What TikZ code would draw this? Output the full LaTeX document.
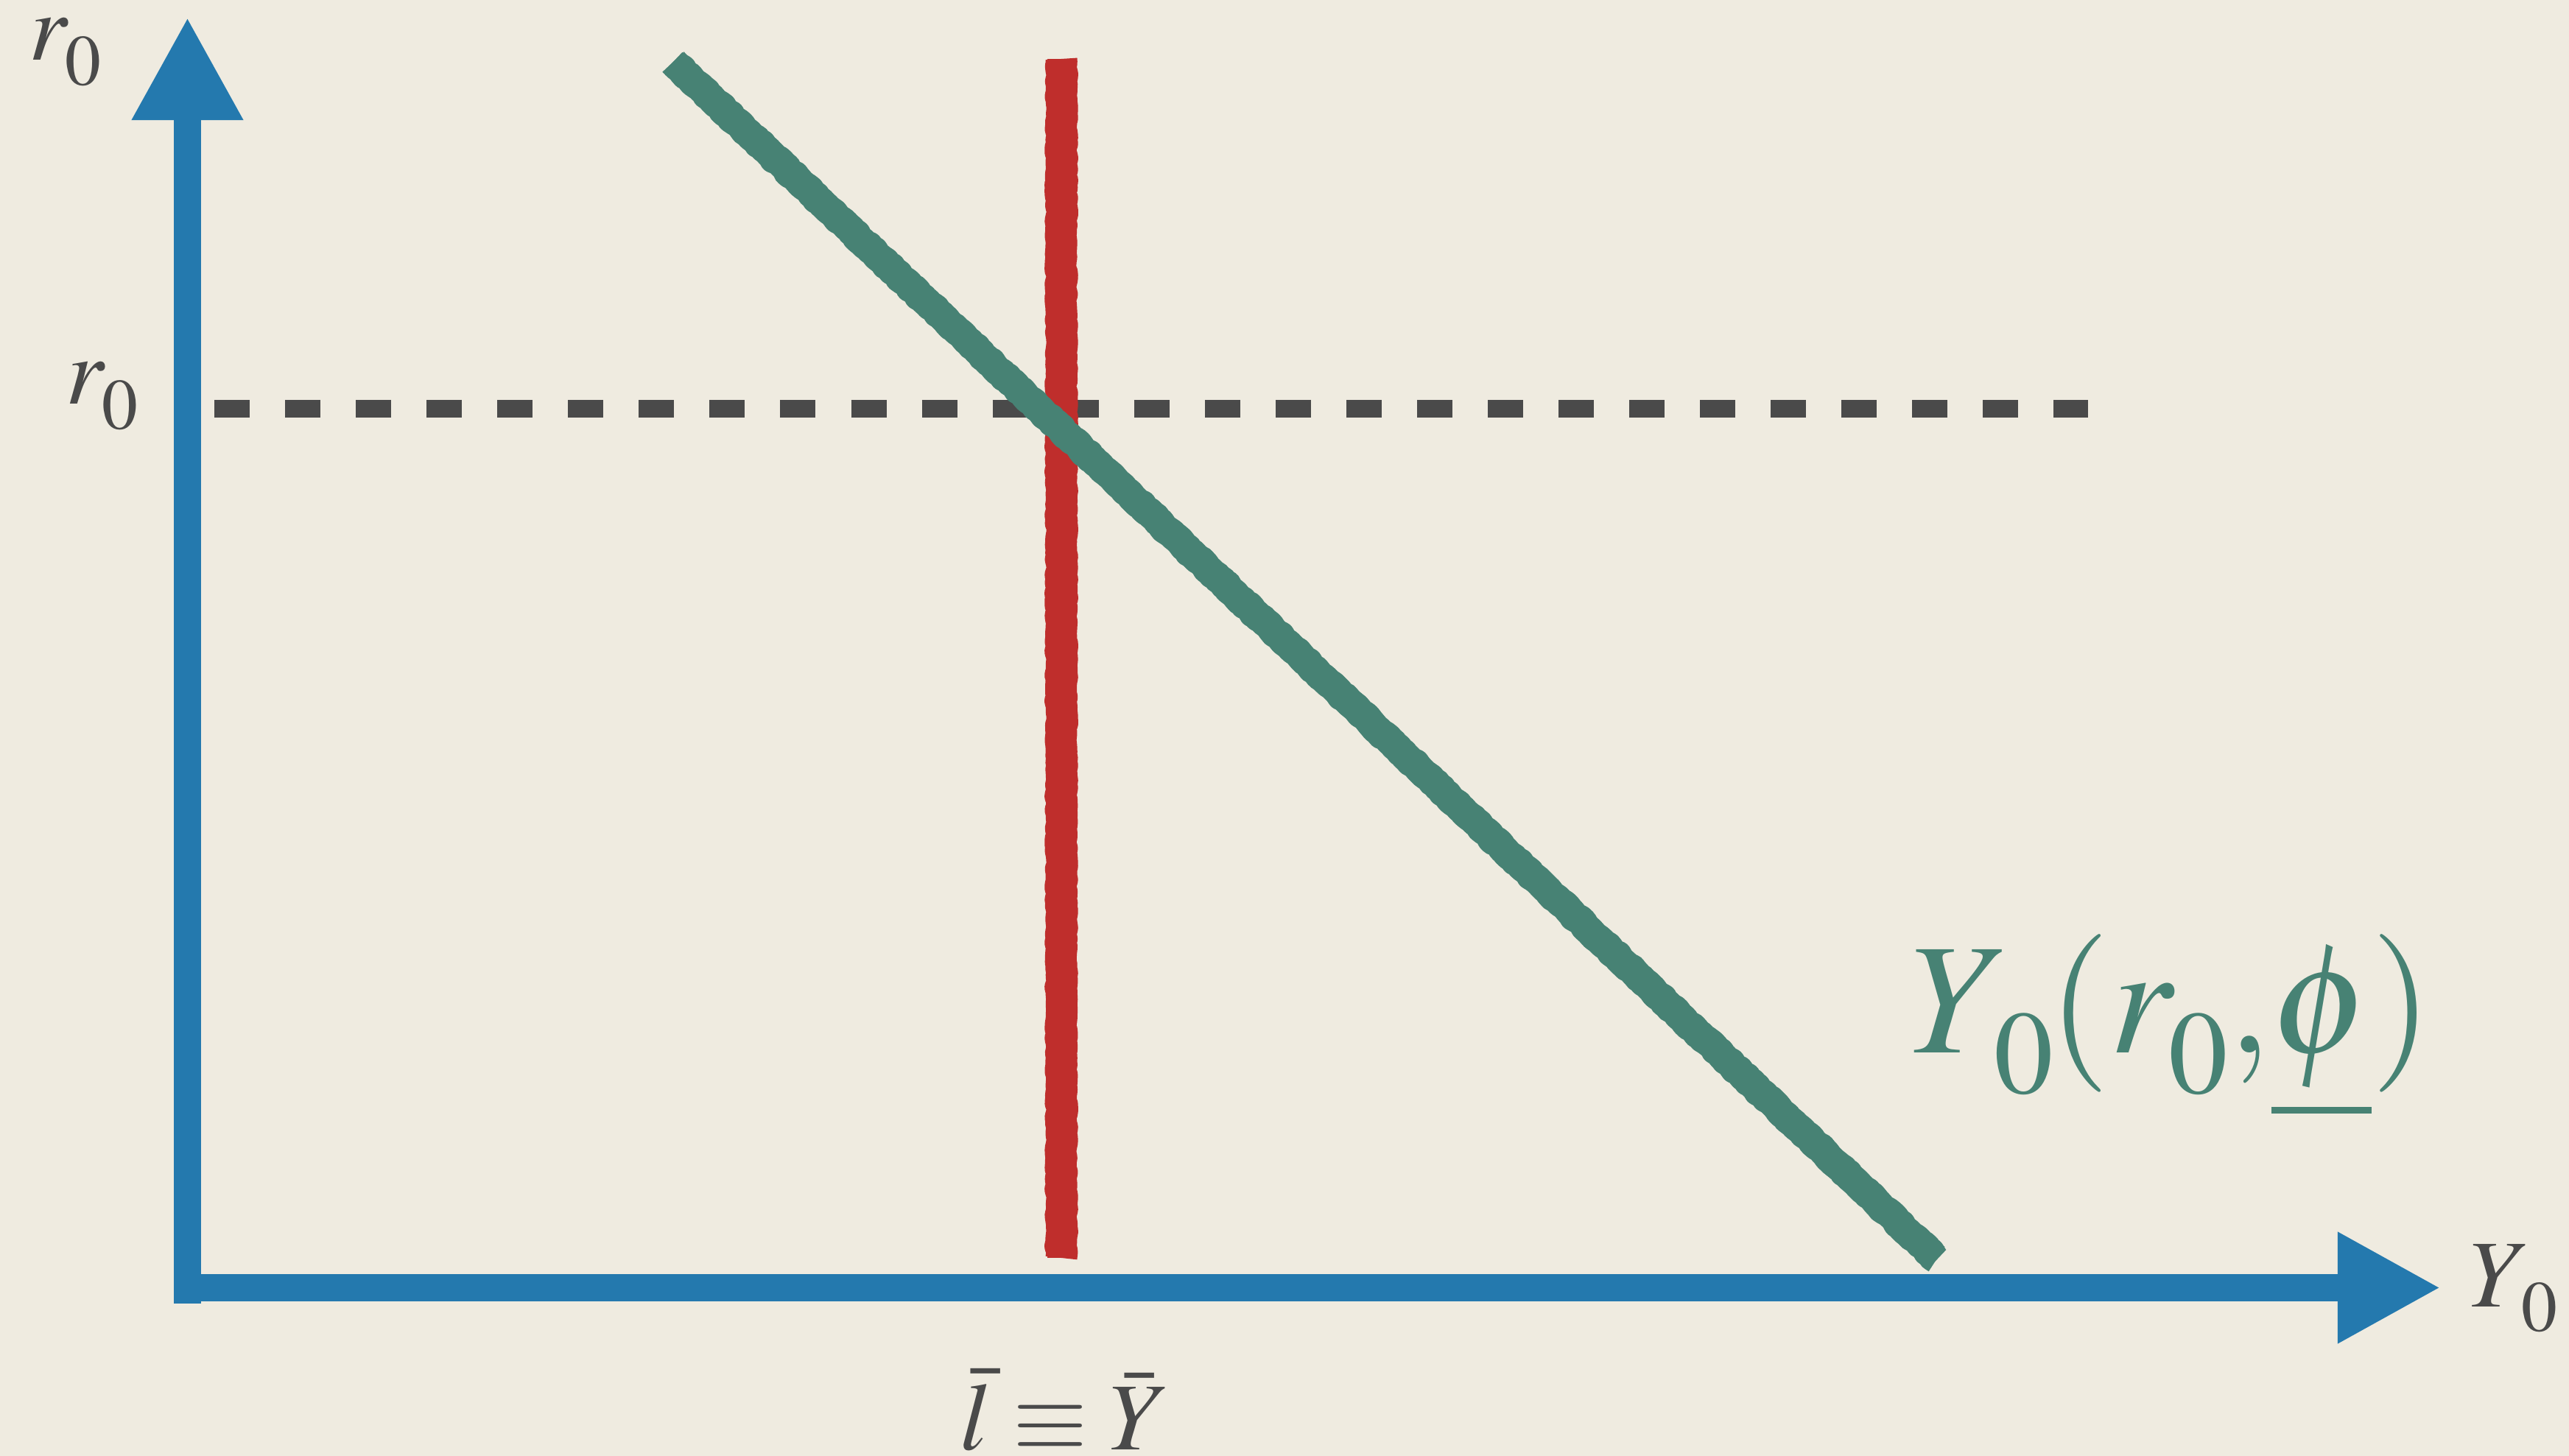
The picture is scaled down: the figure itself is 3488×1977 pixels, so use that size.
\documentclass[tikz,border=0pt]{standalone}
\usepackage{mathptmx}
\usetikzlibrary{arrows.meta,decorations.pathmorphing}
\definecolor{bgc}{HTML}{EFEBE0}
\definecolor{axisblue}{HTML}{2479AE}
\definecolor{redl}{HTML}{BF2E2C}
\definecolor{greenl}{HTML}{478274}
\definecolor{inkgray}{HTML}{4A4A4A}
\newcommand\zs[1]{\raisebox{-0.26em}{\scalebox{0.75}{$#1$}}}
\begin{document}
\begin{tikzpicture}[x=0.01cm,y=-0.01cm,
  axis/.style={draw=axisblue,line width=0.37cm,-{Triangle[length=1.4cm,width=1.41cm]}},
  solidl/.style={line width=#1},
  rough/.style={line width=#1,line join=round,decorate,decoration={random steps,segment length=0.05cm,amplitude=0.014cm}},
  lbl/.style={inner sep=0pt,text=inkgray,font=\fontsize{37}{40}\selectfont},
  biglbl/.style={inner sep=0pt,text=greenl,font=\fontsize{61}{64}\selectfont}]
\pgfmathsetseed{7}
\fill[bgc] (0,0) rectangle (3488,1977);
% coordinates
\coordinate (origin) at (254.5,1770);
\coordinate (ytip) at (254.5,23);
\coordinate (xstart) at (236,1748.5);
\coordinate (xtip) at (3314,1748.5);
\coordinate (dashA) at (291,555);
\coordinate (dashB) at (2835,555);
\coordinate (redT) at (1441,80);
\coordinate (redB) at (1441,1708);
\coordinate (grnT) at (914,84);
\coordinate (grnB) at (2630,1710);
% dashed level line
\draw[inkgray,line width=0.24cm,dash pattern=on 0.48cm off 0.48cm] (dashA) -- (dashB);
% red vertical line
\draw[redl,solidl=0.39cm] (redT) -- (redB);
\draw[redl,rough=0.43cm] (redT) -- (redB);
% green downward line
\draw[greenl,solidl=0.36cm] (grnT) -- (grnB);
\draw[greenl,rough=0.40cm] (grnT) -- (grnB);
% axes
\draw[axis] (origin) -- (ytip);
\draw[axis] (xstart) -- (xtip);
% labels
\node[lbl,anchor=base west] (ltop) at (39,82) {$r\kern-0.04em\zs{0}$};
\node[lbl,anchor=base west] (lmid) at (89,549) {$r\kern-0.04em\zs{0}$};
\node[lbl,anchor=base west] (lx) at (3352,1774) {$Y\kern-0.09em\zs{0}$};
\node[lbl,anchor=base] (lbot) at (1446,1968) {$\bar{l}\equiv\bar{Y}$};
\node[biglbl,anchor=base west] (lcurve) at (2592,1429) {$Y\kern-0.1em\zs{0}\kern-0.03em(r\kern-0.04em\zs{0},\mkern-2mu\underline{\phi})$};
\end{tikzpicture}
\end{document}
